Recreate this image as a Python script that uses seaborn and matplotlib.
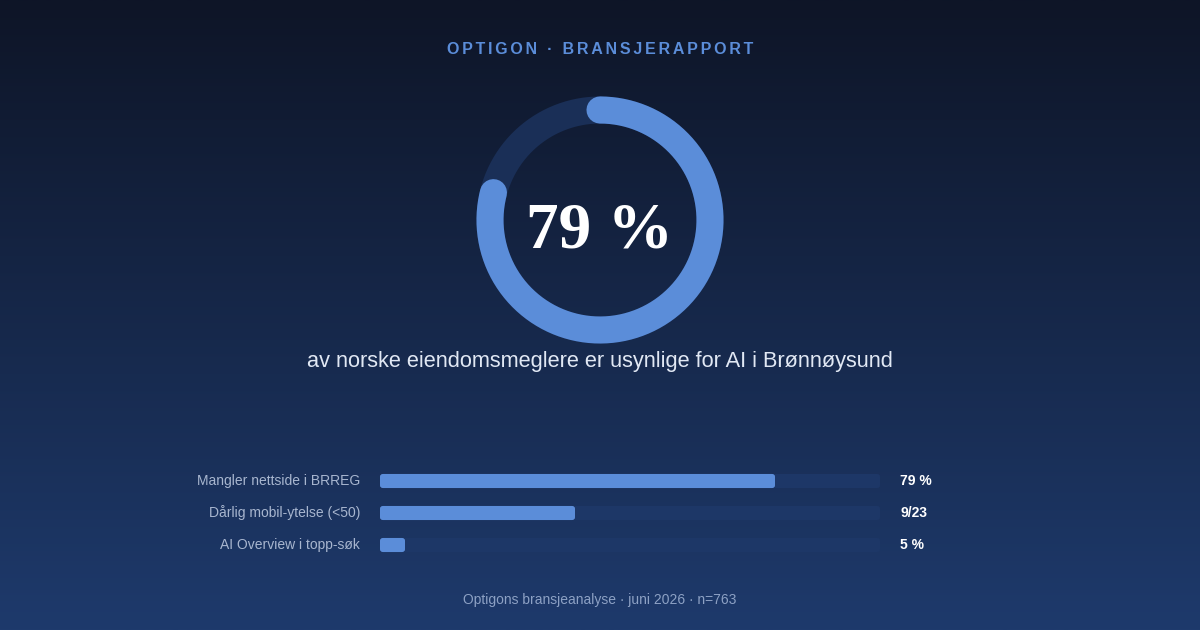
import numpy as np
import pandas as pd
import seaborn as sns
import matplotlib.pyplot as plt
from matplotlib.patches import FancyBboxPatch

# data
headline_share = 79
categories = ["Mangler nettside i BRREG", "Dårlig mobil-ytelse (<50)", "AI Overview i topp-søk"]
shares = [79, 39, 5]
value_labels = ["79 %", "9/23", "5 %"]

BG_TOP = "#0e1527"
BG_BOTTOM = "#1e3a6c"
ACCENT = "#5b8dd9"
RING_TRACK = "#1a2f57"
BAR_TRACK = "#1d3767"

sns.set_theme(style="white")
plt.rcParams["font.family"] = ["Liberation Sans", "DejaVu Sans"]

fig = plt.figure(figsize=(12, 6.3), dpi=100)

# background gradient
bg = fig.add_axes([0, 0, 1, 1])
c0 = np.array(plt.matplotlib.colors.to_rgb(BG_TOP))
c1 = np.array(plt.matplotlib.colors.to_rgb(BG_BOTTOM))
t = np.linspace(0, 1, 256)[:, None]
grad = (c0 * (1 - t) + c1 * t)[:, None, :]
bg.imshow(grad, aspect="auto", extent=[0, 1, 0, 1], origin="upper")
bg.set_axis_off()

# donut, centre at (600, 220) px
ax_d = fig.add_axes([460 / 1200, 1 - 360 / 630, 280 / 1200, 280 / 630])
ax_d.set_xlim(-140, 140)
ax_d.set_ylim(-140, 140)
ax_d.set_aspect("equal")
ax_d.set_axis_off()
r = 110
th = np.linspace(0, 2 * np.pi, 400)
ax_d.plot(r * np.sin(th), r * np.cos(th), color=RING_TRACK, lw=19.5)
th = np.linspace(0, 2 * np.pi * headline_share / 100, 400)
ax_d.plot(r * np.sin(th), r * np.cos(th), color=ACCENT, lw=19.5, solid_capstyle="round")
ax_d.text(0, -12, f"{headline_share} %", ha="center", va="center", color="white",
          fontsize=47, fontweight="bold", family=["Liberation Serif", "DejaVu Serif"])

# texts
title = "OPTIGON · BRANSJERAPPORT"
fig.text(0.5, 1 - 49 / 630, "\u200a\u200a".join(title), ha="center", va="center",
         color=ACCENT, fontsize=11.5, fontweight="bold")
fig.text(0.5, 1 - 362 / 630, "av norske eiendomsmeglere er usynlige for AI i Brønnøysund",
         ha="center", va="center", color="#e1e8f4", fontsize=15.7)
fig.text(0.5, 1 - 600 / 630, "Optigons bransjeanalyse · juni 2026 · n=763",
         ha="center", va="center", color="#8da1c4", fontsize=10)

# bars
df = pd.DataFrame({"kategori": categories, "andel": shares})
ax_b = fig.add_axes([380 / 1200, 1 - 561 / 630, 500 / 1200, 96 / 630])
sns.barplot(data=df, y="kategori", x="andel", ax=ax_b, color=ACCENT,
            width=0.44, saturation=1, orient="h")
ax_b.set_xlim(0, 100)
ax_b.set_ylim(2.5, -0.5)
ax_b.set_axis_off()

# rounded bars with track behind
for p in list(ax_b.patches):
    y, h, w = p.get_y(), p.get_height(), p.get_width()
    p.remove()
    ax_b.add_patch(FancyBboxPatch((0, y), 100, h, boxstyle="round,pad=0,rounding_size=0.6",
                                  mutation_aspect=h / 3.2, fc=BAR_TRACK, ec="none", zorder=1))
    ax_b.add_patch(FancyBboxPatch((0, y), w, h, boxstyle="round,pad=0,rounding_size=0.6",
                                  mutation_aspect=h / 3.2, fc=ACCENT, ec="none", zorder=2))

for i, (cat, lab) in enumerate(zip(categories, value_labels)):
    ax_b.text(-4, i, cat, ha="right", va="center", color="#a8b6cf", fontsize=10)
    ax_b.text(104, i, lab, ha="left", va="center", color="white", fontsize=10,
              fontweight="bold")

fig.savefig("out.png", dpi=100)
